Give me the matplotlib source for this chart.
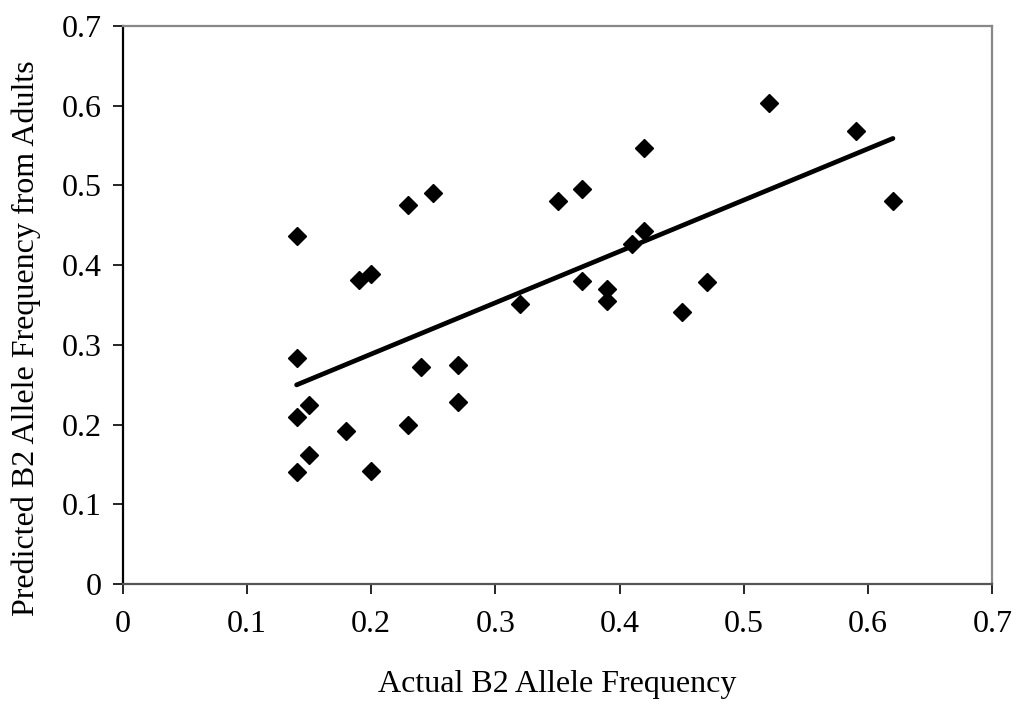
import numpy as np
import matplotlib
matplotlib.use("Agg")
import matplotlib.pyplot as plt

actual = [0.14, 0.14, 0.14, 0.14, 0.15, 0.15, 0.18, 0.19, 0.20, 0.20,
          0.23, 0.23, 0.24, 0.25, 0.27, 0.27, 0.32, 0.35, 0.37, 0.37,
          0.39, 0.39, 0.41, 0.42, 0.42, 0.45, 0.47, 0.52, 0.59, 0.62]
predicted = [0.436, 0.283, 0.209, 0.140, 0.225, 0.162, 0.192, 0.382, 0.389, 0.142,
             0.475, 0.200, 0.272, 0.491, 0.275, 0.228, 0.351, 0.480, 0.495, 0.380,
             0.370, 0.355, 0.427, 0.547, 0.443, 0.341, 0.379, 0.604, 0.568, 0.480]
xticks = [0, 0.1, 0.2, 0.3, 0.4, 0.5, 0.6, 0.7]
yticks = [0, 0.1, 0.2, 0.3, 0.4, 0.5, 0.6, 0.7]
xlabel = "Actual B2 Allele Frequency"
ylabel = "Predicted B2 Allele Frequency from Adults"

plt.rcParams['font.family'] = ['Liberation Serif', 'DejaVu Serif']

fig = plt.figure(figsize=(10.18, 7.09), dpi=100)
ax = fig.add_axes([0.1205, 0.1763, 0.9748 - 0.1205, 0.9633 - 0.1763])

x = np.array(actual)
y = np.array(predicted)
slope, intercept = np.polyfit(x, y, 1)
xl = np.array([x.min(), x.max()])
ax.plot(xl, slope * xl + intercept, color='black', lw=3.4, solid_capstyle='round', zorder=2)
ax.plot(x, y, linestyle='none', marker='D', markersize=9.5, color='black', zorder=3)

ax.set_xlim(0, 0.7)
ax.set_ylim(0, 0.7)
ax.set_xticks(xticks)
ax.set_yticks(yticks)
ax.set_xticklabels([f"{t:g}" for t in xticks])
ax.set_yticklabels([f"{t:g}" for t in yticks])
ax.tick_params(axis='both', direction='out', length=7, width=1.2, labelsize=23, color='black')
ax.tick_params(axis='x', pad=12)
ax.tick_params(axis='y', pad=8)

ax.spines['left'].set_color('black')
ax.spines['bottom'].set_color('#555555')
ax.spines['top'].set_color('#888888')
ax.spines['right'].set_color('#888888')
for s in ax.spines.values():
    s.set_linewidth(1.6)

ax.set_xlabel(xlabel, fontsize=23, labelpad=22)
ax.set_ylabel(ylabel, fontsize=23)
ax.yaxis.set_label_coords(-0.094, 0.441)

fig.savefig("out.png", dpi=100)
